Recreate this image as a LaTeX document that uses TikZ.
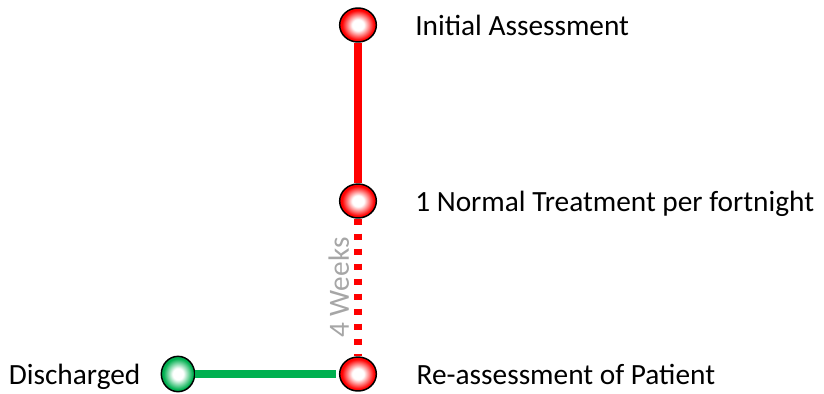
\documentclass[tikz,border=0pt]{standalone}
\usepackage{fontspec}
\setmainfont{Carlito}
\usetikzlibrary{shapes.geometric,positioning}
\definecolor{stopgreen}{RGB}{0,176,80}
\definecolor{weekgray}{RGB}{166,166,166}
\pgfdeclareradialshading{redball}{\pgfpoint{0bp}{0bp}}{color(0bp)=(white); color(8bp)=(white); color(22bp)=(red); color(50bp)=(red)}
\pgfdeclareradialshading{greenball}{\pgfpoint{0bp}{0bp}}{color(0bp)=(white); color(8bp)=(white); color(22bp)=(stopgreen); color(50bp)=(stopgreen)}

\begin{document}
\begin{tikzpicture}[x=0.75pt,y=-0.75pt,
		redstop/.style={ellipse, draw=black, line width=1.1pt, inner sep=0pt,
			minimum width=27.5pt, minimum height=25.5pt, shading=redball},
		greenstop/.style={ellipse, draw=black, line width=1.1pt, inner sep=0pt,
			minimum width=25pt, minimum height=26.5pt, shading=greenball},
		lbl/.style={inner sep=0pt, font=\fontsize{22}{26}\selectfont,
			text height=19pt, text depth=3.3pt}]
	\useasboundingbox (0,0) rectangle (824,393);
	% stops
	\node[redstop] (init) at (358,25) {};
	\node[redstop] (treat) at (358,201) {};
	\node[redstop] (reass) at (358,374) {};
	\node[greenstop] (disc) at (178,374) {};
	% texts
	\node[lbl, right=28.5pt of init] (tinit) {Initial Assessment};
	\node[lbl, right=28.5pt of treat] (ttreat) {1 Normal Treatment per fortnight};
	\node[lbl, right=29.5pt of reass] (treass) {Re-assessment of Patient};
	\node[lbl, left=15pt of disc] (tdisc) {Discharged};
	% lines
	\path
	(init) edge[red, line width=5.5pt] (treat)
	(treat) edge[red, line width=5.5pt, dash pattern=on 5pt off 6.25pt]
		node[midway, rotate=90, anchor=south, inner sep=4pt, text=weekgray,
			font=\fontsize{22}{26}\selectfont]{4 Weeks} (reass)
	(disc) edge[stopgreen, line width=5.5pt, shorten >=2pt] (reass);
\end{tikzpicture}
\end{document}
